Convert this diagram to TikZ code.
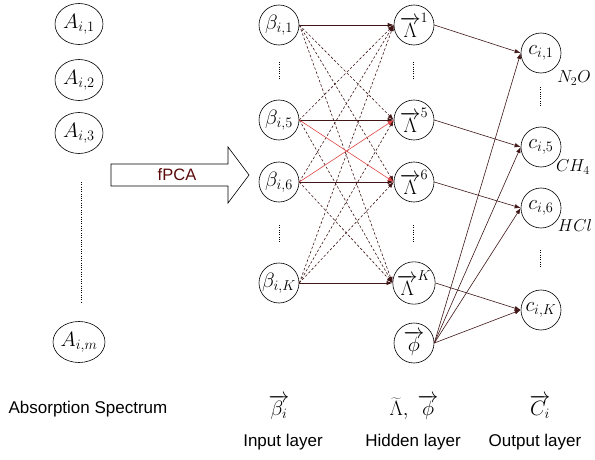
\documentclass[tikz,border=0pt]{standalone}
\usepackage{fontspec}
\setsansfont{Liberation Sans}
\usetikzlibrary{arrows.meta,shapes.geometric}
\definecolor{linkcol}{RGB}{64,22,22}
\definecolor{hotred}{RGB}{222,70,70}
\definecolor{labelred}{RGB}{90,10,10}
\begin{document}
\begin{tikzpicture}[x=1pt,y=-1pt,
  every node/.style={font=\fontsize{20.74}{24}\selectfont},
  neuron/.style={circle,draw,line width=0.6pt,minimum size=40pt,inner sep=0pt},
  inp/.style={ellipse,draw,line width=0.6pt,minimum width=48pt,minimum height=41pt,inner sep=0pt},
  link/.style={draw=linkcol,line width=0.6pt,-{Latex[length=6pt,width=4.5pt]}},
  direct/.style={link,line width=0.9pt},
  cross/.style={link,dash pattern=on 2.5pt off 2pt},
  hot/.style={link,draw=hotred},
  vdots/.style={line width=0.7pt,dash pattern=on 0.7pt off 1.6pt},
  caption/.style={font=\sffamily\fontsize{17}{20}\selectfont}]
\useasboundingbox (0,0) rectangle (595,460);

% raw spectrum
\node[inp] (a1) at (79,24)  {$A_{i,1}$};
\node[inp] (a2) at (79,80)  {$A_{i,2}$};
\node[inp] (a3) at (79,133) {$A_{i,3}$};
\node[inp] (am) at (79,342) {$A_{i,m}$};
\draw[vdots] (81,182) -- (81,303);

% fPCA block arrow
\draw[line width=0.6pt] (111,164) -- (228,164) -- (228,147) -- (249,175)
  -- (228,203) -- (228,186) -- (111,186) -- cycle;
\node[font=\sffamily\fontsize{16.5}{20}\selectfont,text=labelred] (fpca) at (177,175) {fPCA};

% input layer
\node[neuron] (b1) at (279,25)  {$\beta_{i,1}$};
\node[neuron] (b5) at (279,120) {$\beta_{i,5}$};
\node[neuron] (b6) at (279,182) {$\beta_{i,6}$};
\node[neuron] (bK) at (279,283) {$\beta_{i,K}$};
\draw[vdots] (279,62) -- (279,80);
\draw[vdots] (279,225) -- (279,242);

% hidden layer
\node[neuron] (l1) at (414,25)  {$\overrightarrow{\Lambda}^{1}$};
\node[neuron] (l5) at (414,120) {$\overrightarrow{\Lambda}^{5}$};
\node[neuron] (l6) at (414,182) {$\overrightarrow{\Lambda}^{6}$};
\node[neuron] (lK) at (414,283) {$\overrightarrow{\Lambda}^{K}$};
\node[neuron] (ph) at (414,343) {$\overrightarrow{\phi}$};
\draw[vdots] (413,62) -- (413,80);
\draw[vdots] (413,225) -- (413,242);

% output layer
\node[neuron] (c1) at (541,53)  {$c_{i,1}$};
\node[neuron] (c5) at (541,147) {$c_{i,5}$};
\node[neuron] (c6) at (541,208) {$c_{i,6}$};
\node[neuron] (cK) at (541,310) {$c_{i,K}$};
\draw[vdots] (540,87) -- (540,107);
\draw[vdots] (540,250) -- (540,267);
\node[font=\fontsize{17.28}{21}\selectfont] (n2o) at (574,78)  {$N_2O$};
\node[font=\fontsize{17.28}{21}\selectfont] (ch4) at (573,167) {$CH_4$};
\node[font=\fontsize{17.28}{21}\selectfont] (hcl) at (575,225) {$HCl$};

% input -> hidden
\draw[direct] (b1.east) -- (l1.west);
\draw[direct] (b5.east) -- (l5.west);
\draw[direct] (b6.east) -- (l6.west);
\draw[direct] (bK.east) -- (lK.west);
\draw[cross] (b1.east) -- (l5.west);
\draw[cross] (b1.east) -- (l6.west);
\draw[cross] (b1.east) -- (lK.west);
\draw[cross] (b5.east) -- (l1.west);
\draw[cross] (b5.east) -- (lK.west);
\draw[cross] (b6.east) -- (l1.west);
\draw[cross] (b6.east) -- (lK.west);
\draw[cross] (bK.east) -- (l1.west);
\draw[cross] (bK.east) -- (l5.west);
\draw[cross] (bK.east) -- (l6.west);
\draw[hot] (b5.east) -- (l6.west);
\draw[hot] (b6.east) -- (l5.west);

% hidden -> output
\draw[link] (l1.east) -- (c1.west);
\draw[link] (l5.east) -- (c5.west);
\draw[link] (l6.east) -- (c6.west);
\draw[link] (lK.east) -- (cK.west);
\draw[link] (ph.east) -- (c1.west);
\draw[link] (ph.east) -- (c5.west);
\draw[link] (ph.east) -- (c6.west);
\draw[link] (ph.east) -- (cK.west);

% captions
\node (bvec) at (279,407) {$\overrightarrow{\beta_i}$};
\node (hvec) at (414,407) {$\widetilde{\Lambda},\;\overrightarrow{\phi}$};
\node (cvec) at (540,407) {$\overrightarrow{C_i}$};
\node[caption] (spec) at (88,409) {Absorption Spectrum};
\node[caption] (inl) at (283,442) {Input layer};
\node[caption] (hidl) at (413,442) {Hidden layer};
\node[caption] (outl) at (535,442) {Output layer};
\end{tikzpicture}
\end{document}
